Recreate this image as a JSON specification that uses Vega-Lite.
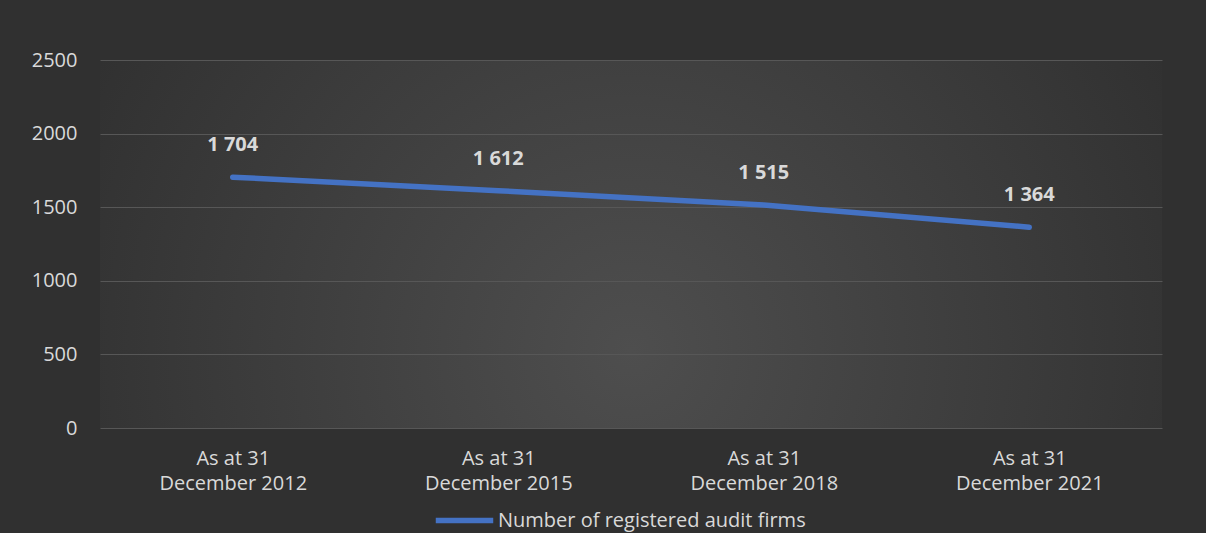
{
  "$schema": "https://vega.github.io/schema/vega-lite/v6.json",
  "width": 1062,
  "height": 368,
  "autosize": {"type": "none"},
  "padding": {"left": 100, "top": 60, "right": 44, "bottom": 105},
  "background": "#303030",
  "config": {
    "font": "Open Sans",
    "view": {
      "stroke": null,
      "fill": {
        "gradient": "radial",
        "x1": 0.5, "y1": 0.6, "r1": 0,
        "x2": 0.5, "y2": 0.6, "r2": 0.7071,
        "stops": [
          {"offset": 0, "color": "#4e4e4e"},
          {"offset": 1, "color": "#2a2a2a"}
        ]
      }
    }
  },
  "data": {
    "values": [
      {"period": "As at 31 December 2012", "firms": 1704, "label": "1 704", "series": "Number of registered audit firms"},
      {"period": "As at 31 December 2015", "firms": 1612, "label": "1 612", "series": "Number of registered audit firms"},
      {"period": "As at 31 December 2018", "firms": 1515, "label": "1 515", "series": "Number of registered audit firms"},
      {"period": "As at 31 December 2021", "firms": 1364, "label": "1 364", "series": "Number of registered audit firms"}
    ]
  },
  "encoding": {
    "x": {
      "field": "period",
      "type": "nominal",
      "sort": null,
      "axis": {
        "title": null,
        "domain": false,
        "ticks": false,
        "labelAngle": 0,
        "labelFont": "Open Sans",
        "labelFontSize": 20,
        "labelColor": "#d9d9d9",
        "labelPadding": 20,
        "labelLineHeight": 25,
        "labelExpr": "[slice(datum.label, 0, 8), slice(datum.label, 9)]"
      }
    },
    "y": {
      "field": "firms",
      "type": "quantitative",
      "scale": {"domain": [0, 2500], "nice": false},
      "axis": {
        "title": null,
        "values": [0, 500, 1000, 1500, 2000, 2500],
        "format": "d",
        "domain": false,
        "ticks": false,
        "labelFont": "Open Sans",
        "labelFontSize": 20,
        "labelColor": "#d9d9d9",
        "labelPadding": 23,
        "gridColor": "#575757",
        "gridWidth": 1.2
      }
    }
  },
  "layer": [
    {
      "mark": {"type": "line", "strokeWidth": 5.5, "strokeCap": "round", "strokeJoin": "round"},
      "encoding": {
        "color": {
          "field": "series",
          "type": "nominal",
          "scale": {"range": ["#4472c4"]},
          "legend": {
            "title": null,
            "orient": "none",
            "legendX": 333,
            "legendY": 429,
            "symbolType": "stroke",
            "symbolSize": 3300,
            "symbolStrokeWidth": 5.5,
            "labelFont": "Open Sans",
            "labelFontSize": 20,
            "labelColor": "#d9d9d9",
            "labelOffset": 2,
            "labelLimit": 500
          }
        }
      }
    },
    {
      "mark": {"type": "text", "fontWeight": "bold", "fontSize": 20, "font": "Open Sans", "color": "#d9d9d9", "dy": -32},
      "encoding": {"text": {"field": "label"}}
    }
  ]
}
